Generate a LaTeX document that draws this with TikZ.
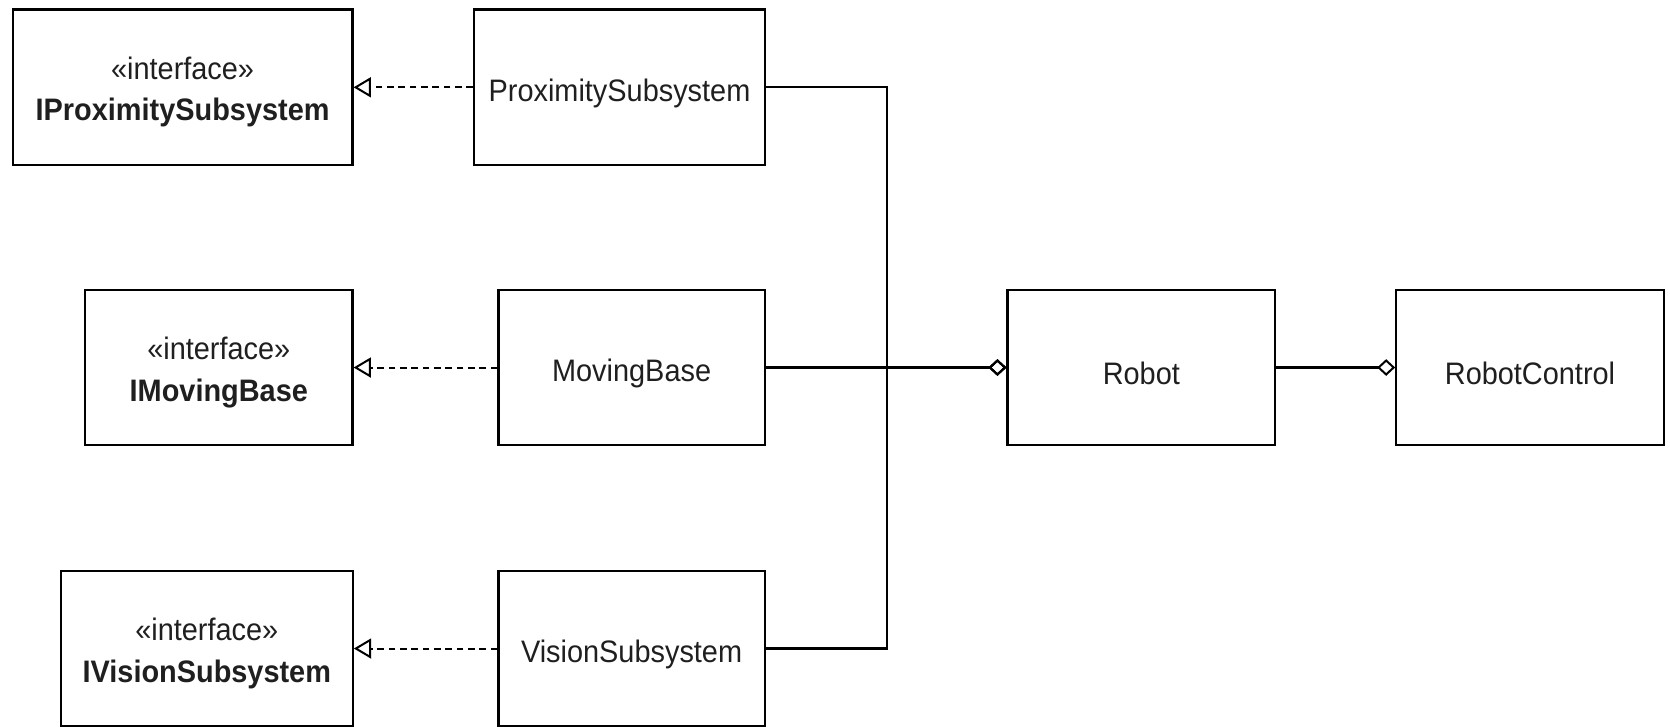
\documentclass[tikz,border=0pt]{standalone}
\usepackage{fontspec}
\setmainfont[FakeStretch=0.93]{Liberation Sans}
\usetikzlibrary{arrows.meta}
% move a label down without changing its box, so it sits a little below centre
\newcommand{\lowerby}[2]{\raisebox{-#1}[\height][\depth]{#2}}
\newcommand{\iface}[1]{\lowerby{3.5pt}{\begin{tabular}{@{}c@{}}«interface»\\\textbf{#1}\end{tabular}}}
\newcommand{\cls}[1]{\lowerby{4.5pt}{#1}}
\begin{document}
\begin{tikzpicture}[x=0.75pt,y=-0.75pt,
  box/.style={draw=black, line width=1.7pt, inner sep=0pt, minimum height=116.6pt,
    font=\fontsize{23.3}{31}\selectfont, text=black!88},
  realize/.style={line width=1.5pt, dash pattern=on 5pt off 3.5pt,
    -{Triangle[open,length=13pt,width=15pt,line width=1.5pt]}},
  aggr/.style={line width=1.7pt, -{Diamond[open,length=13.5pt,width=12.5pt,line width=1.5pt]}},
]
\useasboundingbox (0,0) rectangle (1670,726);

% interfaces
\node[box, minimum width=254.8pt] (iprox) at (182.6,87.3) {\iface{IProximitySubsystem}};
\node[box, minimum width=200.5pt] (imove) at (218.8,367.5) {\iface{IMovingBase}};
\node[box, minimum width=218.9pt] (ivis)  at (206.8,648.5) {\iface{IVisionSubsystem}};

% implementing classes
\node[box, minimum width=218pt]   (prox) at (619.5,87.3)  {\cls{ProximitySubsystem}};
\node[box, minimum width=199.7pt] (move) at (631.6,367.5) {\cls{MovingBase}};
\node[box, minimum width=199.7pt] (vis)  at (631.6,648.5) {\cls{VisionSubsystem}};

% robot and its controller
\node[box, minimum width=200.6pt] (robot) at (1141.3,367.5) {\cls{Robot}};
\node[box, minimum width=200.6pt] (ctrl)  at (1530,367.5)   {\cls{RobotControl}};

% realizations
\draw[realize] (prox.west) -- (iprox.east);
\draw[realize] (move.west) -- (imove.east);
\draw[realize] (vis.west)  -- (ivis.east);

% aggregation of the subsystems into the robot
\coordinate (bus) at (887.2,367.5);
\draw[aggr] (prox.east) -| (bus) -- (robot.west);
\draw[aggr] (vis.east)  -| (bus) -- (robot.west);
\draw[aggr] (move.east) -- (robot.west);
\draw[aggr] (robot.east) -- (ctrl.west);
\end{tikzpicture}
\end{document}
